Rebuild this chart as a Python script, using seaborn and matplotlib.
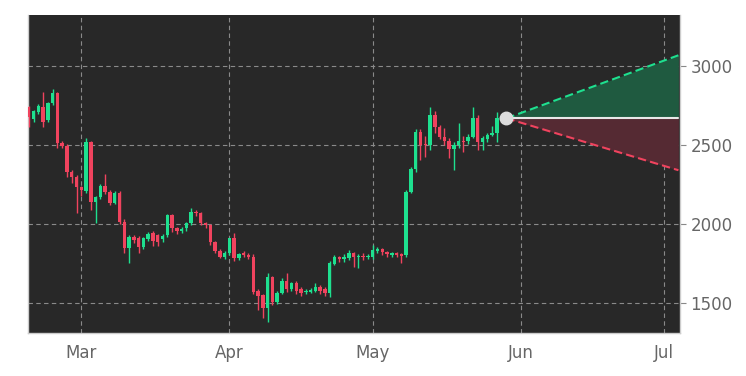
import numpy as np
import pandas as pd
import matplotlib
matplotlib.use("Agg")
import matplotlib.pyplot as plt
import matplotlib.dates as mdates
import seaborn as sns

start_date = "2022-02-18"
opens = [2740, 2665, 2710, 2745, 2658, 2766, 2830, 2513, 2494, 2330, 2300,
         2234, 2210, 2520, 2140, 2170, 2240, 2205, 2135, 2200, 2015, 1848,
         1918, 1910, 1855, 1905, 1945, 1930, 1905, 1930, 2057, 1975, 1960,
         1975, 2005, 2080, 2070, 2005, 1995, 1885, 1830, 1790,
         1820, 1910, 1785, 1815, 1805, 1795, 1575, 1550, 1470, 1665, 1505,
         1565, 1640, 1590, 1625, 1590, 1570, 1572, 1575, 1605, 1590, 1565,
         1750, 1795, 1780, 1785, 1815, 1790, 1800, 1790,
         1790, 1830, 1840, 1825, 1805, 1815, 1810, 1805, 2202, 2348, 2582,
         2510, 2500, 2690, 2615, 2550, 2530, 2475, 2500, 2530, 2525, 2555,
         2670, 2520, 2540, 2565, 2580, 2665]
closes = [2680, 2715, 2747, 2650, 2766, 2830, 2513, 2494, 2330, 2300, 2234,
          2215, 2520, 2140, 2170, 2240, 2205, 2135, 2200, 2015, 1848, 1918,
          1900, 1855, 1910, 1940, 1895, 1885, 1925, 2057, 1975, 1960, 1970,
          2005, 2075, 2070, 2005, 1995, 1885, 1830, 1790, 1820,
          1910, 1785, 1810, 1805, 1790, 1570, 1545, 1468, 1665, 1505, 1565,
          1640, 1590, 1625, 1575, 1565, 1580, 1582, 1605, 1575, 1565, 1753,
          1790, 1780, 1795, 1820, 1790, 1800, 1790, 1800,
          1835, 1845, 1823, 1810, 1815, 1805, 1800, 2202, 2348, 2582, 2500,
          2500, 2690, 2615, 2550, 2530, 2475, 2500, 2530, 2520, 2555, 2670,
          2520, 2545, 2565, 2580, 2670, 2672]
highs = [2750, 2725, 2760, 2835, 2775, 2855, 2840, 2530, 2510, 2345, 2310,
         2245, 2545, 2530, 2180, 2255, 2320, 2215, 2210, 2210, 2030, 1930,
         1930, 1925, 1920, 1950, 1955, 1940, 1935, 2065, 2065, 1985, 1980,
         2015, 2100, 2090, 2080, 2015, 2000, 1895, 1840, 1830,
         1915, 1943, 1820, 1830, 1815, 1810, 1590, 1560, 1690, 1675, 1575,
         1660, 1690, 1635, 1640, 1600, 1590, 1595, 1625, 1615, 1600, 1770,
         1805, 1800, 1810, 1835, 1825, 1810, 1815, 1810,
         1867, 1855, 1850, 1830, 1825, 1825, 1815, 2215, 2360, 2600, 2600,
         2560, 2740, 2720, 2630, 2610, 2545, 2520, 2640, 2560, 2570, 2740,
         2690, 2560, 2580, 2620, 2710, 2690]
lows = [2615, 2650, 2700, 2615, 2645, 2755, 2480, 2480, 2300, 2260, 2070,
        2180, 2195, 2090, 2005, 2160, 2190, 2120, 2125, 2000, 1815, 1753,
        1880, 1815, 1845, 1895, 1860, 1860, 1890, 1920, 1950, 1940, 1945,
        1960, 1995, 2050, 1995, 1975, 1870, 1820, 1785, 1780,
        1805, 1770, 1775, 1790, 1780, 1560, 1455, 1405, 1380, 1490, 1495,
        1555, 1570, 1580, 1555, 1545, 1560, 1565, 1570, 1560, 1545, 1540,
        1740, 1760, 1760, 1775, 1730, 1720, 1775, 1780,
        1780, 1815, 1805, 1790, 1795, 1790, 1753, 1795, 2196, 2330, 2405,
        2425, 2470, 2580, 2540, 2500, 2420, 2342, 2485, 2460, 2510, 2545,
        2470, 2470, 2520, 2560, 2520, 2655]

proj_date = "2022-05-29"
proj_end = "2022-07-04"
proj_mid = 2671
proj_upper = 3070
proj_lower = 2342

tick_labels = ["Mar", "Apr", "May", "Jun", "Jul"]
tick_dates = ["2022-03-01", "2022-04-01", "2022-05-01", "2022-06-01", "2022-07-01"]

GREEN = "#1ee08f"
RED = "#f0435e"

dates = pd.date_range(start_date, periods=len(opens), freq="D")
df = pd.DataFrame({"date": dates, "open": opens, "high": highs,
                   "low": lows, "close": closes})
df["up"] = df["close"] >= df["open"]

sns.set_theme(style="darkgrid", rc={
    "axes.facecolor": "#282828",
    "figure.facecolor": "white",
    "grid.color": "#8a8a8a",
    "grid.linestyle": (0, (4, 3)),
    "grid.linewidth": 0.8,
    "axes.edgecolor": "#cccccc",
})
plt.rcParams["font.family"] = ["DejaVu Sans"]

fig = plt.figure(figsize=(7.46, 3.76), dpi=100)
ax = fig.add_axes([0.0375, 0.114, 0.874, 0.846])

xnum = mdates.date2num(df["date"])
colors = np.where(df["up"], GREEN, RED)
ax.vlines(xnum, df["low"], df["high"], colors=colors, linewidth=1.0, zorder=3)
body_bottom = np.minimum(df["open"], df["close"])
body_h = np.maximum(np.abs(df["close"] - df["open"]), 6)
ax.bar(xnum, body_h, bottom=body_bottom, width=0.72, color=colors,
       linewidth=0, zorder=4)

# projection cone
p0 = mdates.date2num(pd.Timestamp(proj_date))
p1 = mdates.date2num(pd.Timestamp(proj_end))
px = np.array([p0, p1])
ax.fill_between(px, [proj_mid, proj_mid], [proj_mid, proj_upper],
                color="#1f5a40", linewidth=0, zorder=2)
ax.fill_between(px, [proj_mid, proj_mid], [proj_mid, proj_lower],
                color="#552a33", linewidth=0, zorder=2)
proj_df = pd.DataFrame({"x": px, "upper": [proj_mid, proj_upper],
                        "lower": [proj_mid, proj_lower], "mid": [proj_mid, proj_mid]})
sns.lineplot(data=proj_df, x="x", y="upper", ax=ax, color=GREEN,
             linestyle=(0, (4, 2)), linewidth=1.5, zorder=5)
sns.lineplot(data=proj_df, x="x", y="lower", ax=ax, color=RED,
             linestyle=(0, (4, 2)), linewidth=1.5, zorder=5)
sns.lineplot(data=proj_df, x="x", y="mid", ax=ax, color="#e8e8e8",
             linewidth=1.5, zorder=5)
ax.plot([p0], [proj_mid], "o", color="#dcdcdc", markersize=9, zorder=6)

ax.set_xlim(mdates.date2num(pd.Timestamp("2022-02-17 20:00")),
            mdates.date2num(pd.Timestamp("2022-07-04 08:00")))
ax.set_ylim(1310, 3325)
ax.set_xticks(mdates.date2num(pd.to_datetime(tick_dates)))
ax.set_xticklabels(tick_labels)
ax.set_yticks([1500, 2000, 2500, 3000])
ax.yaxis.tick_right()
ax.tick_params(axis="both", colors="#666666", labelsize=12, length=4,
               width=0.8, direction="out")
ax.tick_params(axis="x", colors="#888888", labelcolor="#666666")
ax.tick_params(axis="y", colors="#888888", labelcolor="#666666")
ax.set_xlabel("")
ax.set_ylabel("")
for s in ["top"]:
    ax.spines[s].set_visible(False)
for s in ["left", "bottom", "right"]:
    ax.spines[s].set_visible(True)
    ax.spines[s].set_color("#cccccc")
    ax.spines[s].set_linewidth(1.0)
ax.grid(True)

fig.savefig("out.png", dpi=100)
